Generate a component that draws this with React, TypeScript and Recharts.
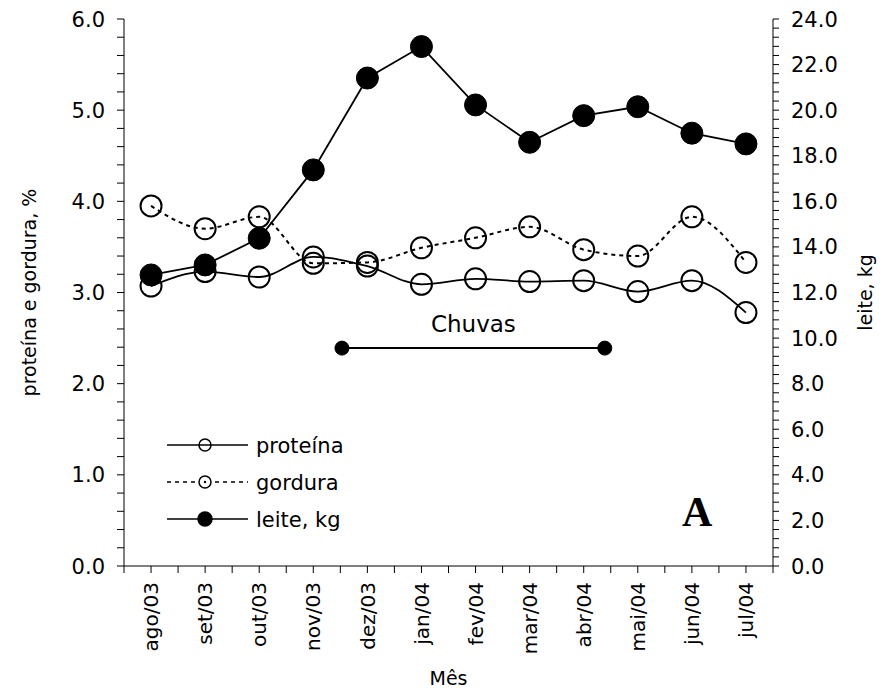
import React from "react";
import {
  LineChart,
  Line,
  XAxis,
  YAxis,
  ReferenceLine,
  ReferenceDot,
  Legend,
} from "recharts";

const meses = ["ago/03", "set/03", "out/03", "nov/03", "dez/03", "jan/04", "fev/04", "mar/04", "abr/04", "mai/04", "jun/04", "jul/04"];
const proteina = [3.07, 3.23, 3.17, 3.39, 3.29, 3.09, 3.15, 3.12, 3.13, 3.01, 3.13, 2.78];
const gordura = [3.95, 3.7, 3.83, 3.32, 3.33, 3.49, 3.6, 3.72, 3.47, 3.4, 3.83, 3.33];
const leite = [12.77, 13.21, 14.38, 17.38, 21.41, 22.79, 20.23, 18.59, 19.76, 20.15, 18.99, 18.52];

// período das chuvas (posição em meses) e nível no eixo esquerdo
const chuvasX = [3.53, 8.39];
const chuvasY = 2.39;

const leftMajor = [0, 1, 2, 3, 4, 5, 6];
const rightMajor = [0, 2, 4, 6, 8, 10, 12, 14, 16, 18, 20, 22, 24];

const leftTicks = Array.from({ length: 31 }, (_, i) => +(i * 0.2).toFixed(1));
const rightTicks = Array.from({ length: 61 }, (_, i) => +(i * 0.4).toFixed(1));
const xTicks = Array.from({ length: 25 }, (_, i) => -0.5 + i * 0.5);

const data = meses.map((m, i) => ({
  x: i,
  mes: m,
  proteina: proteina[i],
  gordura: gordura[i],
  leite: leite[i],
}));

const FONT = "DejaVu Sans";

const isMajor = (v: number, list: number[]) => list.some((t) => Math.abs(t - v) < 1e-6);

const LeftTick = ({ x, y, payload }: any) =>
  isMajor(payload.value, leftMajor) ? (
    <text x={x} y={y} dy="0.36em" textAnchor="end" fontFamily={FONT} fontSize={21} fill="#000">
      {payload.value.toFixed(1)}
    </text>
  ) : null;

const RightTick = ({ x, y, payload }: any) =>
  isMajor(payload.value, rightMajor) ? (
    <text x={x} y={y} dy="0.36em" textAnchor="start" fontFamily={FONT} fontSize={21} fill="#000">
      {payload.value.toFixed(1)}
    </text>
  ) : null;

const MonthTick = ({ x, y, payload }: any) => {
  const v = payload.value;
  if (!Number.isInteger(v) || v < 0 || v >= meses.length) return null;
  return (
    <text
      x={x}
      y={y}
      dy="0.36em"
      textAnchor="end"
      transform={`rotate(-90 ${x} ${y})`}
      fontFamily={FONT}
      fontSize={20}
      fill="#000"
    >
      {meses[v]}
    </text>
  );
};

const yTitle = (text: string, cx: number) => ({ viewBox }: any) => {
  const cy = viewBox.y + viewBox.height / 2;
  return (
    <text
      x={cx}
      y={cy}
      dy="0.36em"
      textAnchor="middle"
      transform={`rotate(-90 ${cx} ${cy})`}
      fontFamily={FONT}
      fontSize={19}
      fill="#000"
    >
      {text}
    </text>
  );
};

const legendItems = [
  { name: "proteína", dash: undefined, fill: "none", dotCenter: false },
  { name: "gordura", dash: "4 4", fill: "none", dotCenter: true },
  { name: "leite, kg", dash: undefined, fill: "#000", dotCenter: false },
];

const LegendBox = () => (
  <svg width={200} height={110}>
    {legendItems.map((it, i) => {
      const y = 20 + i * 37;
      return (
        <g key={it.name}>
          <line x1={7} x2={88} y1={y} y2={y} stroke="#000" strokeWidth={1.5} strokeDasharray={it.dash} />
          <circle cx={45} cy={y} r={it.fill === "#000" ? 7 : 6} fill={it.fill === "#000" ? "#000" : "#fff"} stroke="#000" strokeWidth={1.5} />
          {it.dotCenter && <circle cx={45} cy={y} r={1.2} fill="#000" />}
          {!it.dotCenter && it.fill !== "#000" && (
            <line x1={39} x2={51} y1={y} y2={y} stroke="#000" strokeWidth={1.5} />
          )}
          <text x={96} y={y} dy="0.36em" fontFamily={FONT} fontSize={21} fill="#000">
            {it.name}
          </text>
        </g>
      );
    })}
  </svg>
);

export default function App() {
  return (
    <div style={{ position: "absolute", left: 0, top: 0, width: 883, height: 695, background: "#fff" }}>
      <LineChart width={883} height={695} data={data} margin={{ top: 19, right: 40, bottom: 0, left: 54 }}>
        <XAxis
          dataKey="x"
          type="number"
          domain={[-0.5, 11.5]}
          ticks={xTicks}
          interval={0}
          height={129}
          tickSize={7}
          tickMargin={9}
          stroke="#000"
          tick={<MonthTick />}
          label={{ value: "Mês", position: "insideBottom", offset: 10, fontFamily: FONT, fontSize: 19, fill: "#000" }}
        />
        <YAxis
          yAxisId="left"
          domain={[0, 6]}
          ticks={leftTicks}
          interval={0}
          width={70}
          tickSize={7}
          tickMargin={12}
          stroke="#000"
          tick={<LeftTick />}
          label={{ content: yTitle("proteína e gordura, %", 29) }}
        />
        <YAxis
          yAxisId="right"
          orientation="right"
          domain={[0, 24]}
          ticks={rightTicks}
          interval={0}
          width={70}
          tickSize={6}
          tickMargin={12}
          stroke="#000"
          tick={<RightTick />}
          label={{ content: yTitle("leite, kg", 865) }}
        />
        <Legend
          layout="vertical"
          align="center"
          verticalAlign="middle"
          content={<LegendBox />}
          wrapperStyle={{ left: 160, top: 425, width: 200, height: 110 }}
        />
        <ReferenceLine
          yAxisId="left"
          segment={[
            { x: chuvasX[0], y: chuvasY },
            { x: chuvasX[1], y: chuvasY },
          ]}
          stroke="#000"
          strokeWidth={2}
          label={{ value: "Chuvas", position: "top", offset: 16, fontFamily: FONT, fontSize: 23, fill: "#000" }}
        />
        <ReferenceDot yAxisId="left" x={chuvasX[0]} y={chuvasY} r={7} fill="#000" stroke="#000" />
        <ReferenceDot yAxisId="left" x={chuvasX[1]} y={chuvasY} r={7} fill="#000" stroke="#000" />
        <Line
          yAxisId="left"
          type="monotone"
          dataKey="gordura"
          stroke="#000"
          strokeWidth={2}
          strokeDasharray="4 4"
          dot={{ r: 10.5, fill: "none", stroke: "#000", strokeWidth: 2, strokeDasharray: "" }}
          isAnimationActive={false}
        />
        <Line
          yAxisId="left"
          type="monotone"
          dataKey="proteina"
          stroke="#000"
          strokeWidth={1.8}
          dot={{ r: 10.5, fill: "none", stroke: "#000", strokeWidth: 2 }}
          isAnimationActive={false}
        />
        <Line
          yAxisId="right"
          type="linear"
          dataKey="leite"
          stroke="#000"
          strokeWidth={1.8}
          dot={{ r: 11, fill: "#000", stroke: "#000", strokeWidth: 1 }}
          isAnimationActive={false}
        />
      </LineChart>
      <div
        style={{
          position: "absolute",
          left: 682,
          top: 490,
          fontFamily: "Liberation Serif",
          fontWeight: "bold",
          fontSize: 42,
          lineHeight: "44px",
          color: "#000",
        }}
      >
        A
      </div>
    </div>
  );
}
